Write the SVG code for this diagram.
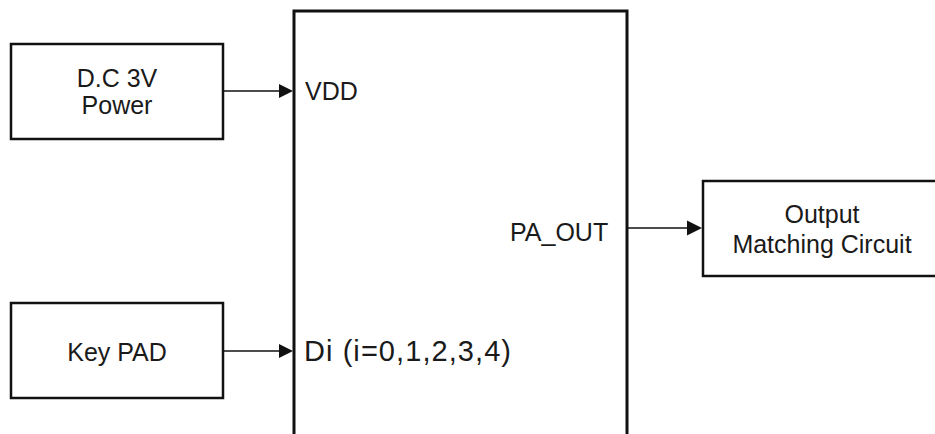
<svg xmlns="http://www.w3.org/2000/svg" width="935" height="434" viewBox="0 0 935 434">
  <style>
    .box { fill: #ffffff; stroke: #111111; stroke-width: 2.5; }
    .big { fill: #ffffff; stroke: #111111; stroke-width: 3; }
    .lbl { font-family: "Liberation Sans", Arial, sans-serif; font-size: 25px; fill: #1a1a1a; }
    .di { font-size: 29px; }
    .wire { stroke: #111111; stroke-width: 1.6; fill: none; }
    .head { fill: #111111; }
  </style>
  <rect x="0" y="0" width="935" height="434" fill="#ffffff"/>
  <g id="pa-chip">
    <rect class="big" x="294" y="11" width="333" height="440"/>
    <text class="lbl" x="305" y="100">VDD</text>
    <text class="lbl di" x="304" y="361" textLength="207" lengthAdjust="spacing">Di (i=0,1,2,3,4)</text>
    <text class="lbl" x="510" y="241">PA_OUT</text>
  </g>
  <g id="dc-power">
    <rect class="box" x="11" y="44" width="212" height="95"/>
    <text class="lbl" x="117" y="87" text-anchor="middle">D.C 3V</text>
    <text class="lbl" x="117" y="114" text-anchor="middle">Power</text>
  </g>
  <g id="key-pad">
    <rect class="box" x="11" y="303" width="212" height="95"/>
    <text class="lbl" x="117" y="361" text-anchor="middle">Key PAD</text>
  </g>
  <g id="output-matching">
    <rect class="box" x="703" y="181" width="240" height="95"/>
    <text class="lbl" x="822" y="223" text-anchor="middle">Output</text>
    <text class="lbl" x="822" y="253" text-anchor="middle">Matching Circuit</text>
  </g>
  <g id="connectors">
    <line class="wire" x1="223" y1="91" x2="282" y2="91"/>
    <polygon class="head" points="293,91 279,84 279,98"/>
    <line class="wire" x1="223" y1="351" x2="282" y2="351"/>
    <polygon class="head" points="293,351 279,344 279,358"/>
    <line class="wire" x1="627" y1="228" x2="690" y2="228"/>
    <polygon class="head" points="702,228 687,220.5 687,235.5"/>
  </g>
</svg>
